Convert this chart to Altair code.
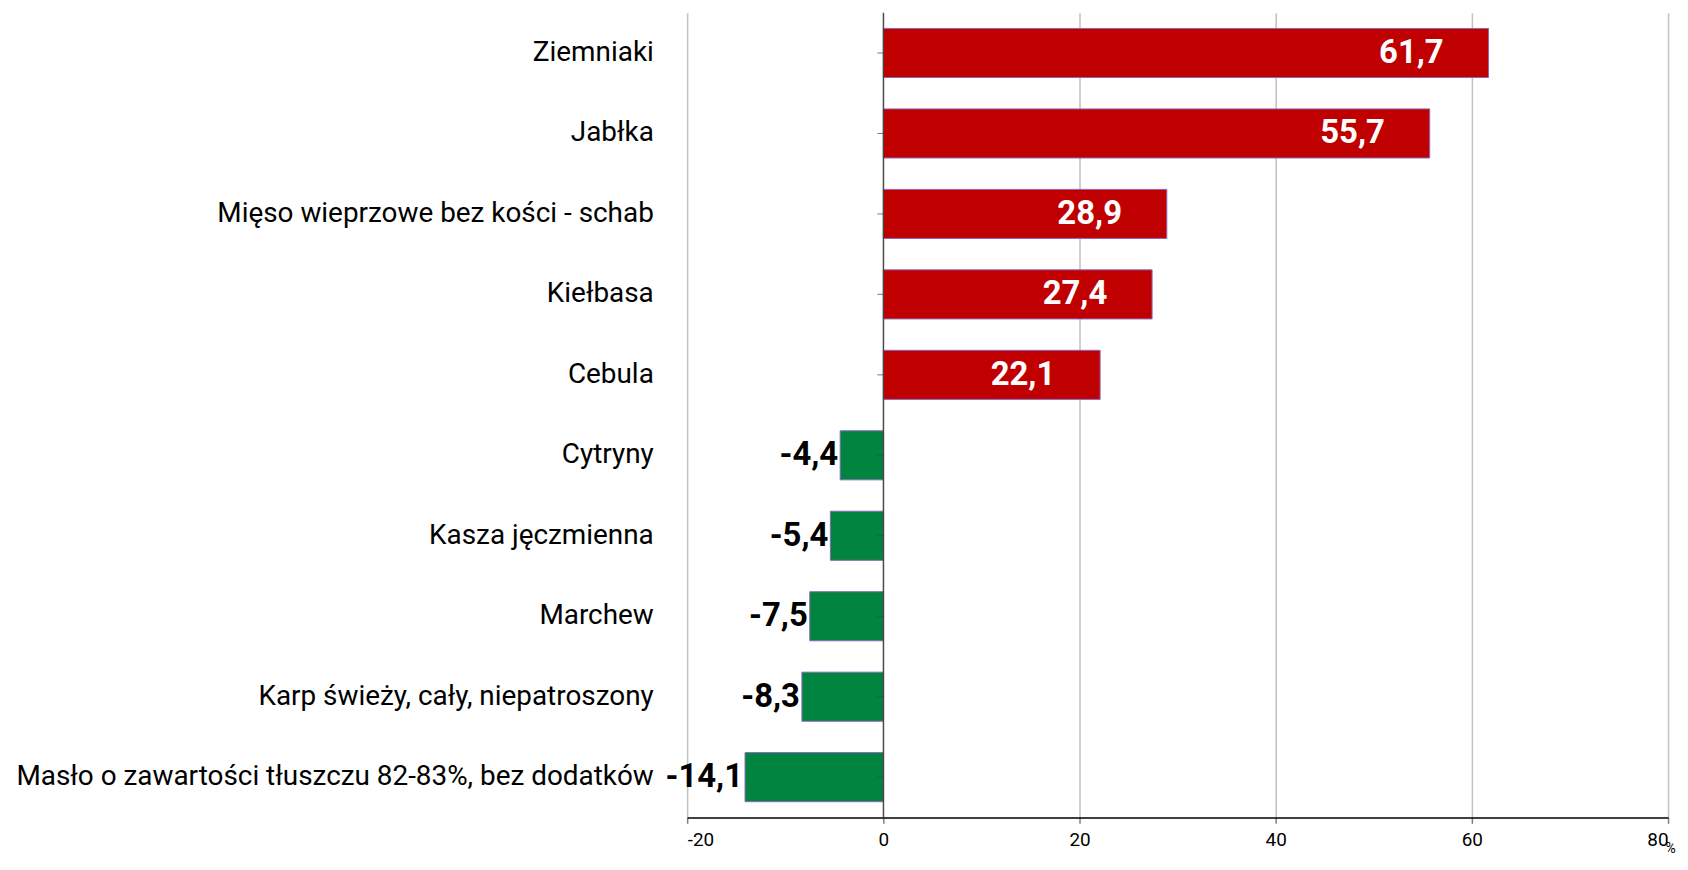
import altair as alt
import pandas as pd

categories = [
    "Ziemniaki",
    "Jabłka",
    "Mięso wieprzowe bez kości - schab",
    "Kiełbasa",
    "Cebula",
    "Cytryny",
    "Kasza jęczmienna",
    "Marchew",
    "Karp świeży, cały, niepatroszony",
    "Masło o zawartości tłuszczu 82-83%, bez dodatków",
]
values = [61.7, 55.7, 28.9, 27.4, 22.1, -4.4, -5.4, -7.5, -8.3, -14.1]
x_ticks = [-20, 0, 20, 40, 60, 80]

df = pd.DataFrame({"cat": categories, "value": values})
df["label"] = [f"{v:.1f}".replace(".", ",") for v in values]

W, H = 985, 808
FONT = "Roboto"

y_enc = alt.Y(
    "cat:N",
    sort=categories,
    title=None,
    scale=alt.Scale(paddingInner=0.39, paddingOuter=0.195),
    axis=alt.Axis(
        domain=False, ticks=False, tickSize=0, labelPadding=34,
        labelFontSize=28, labelFont=FONT, labelColor="black", labelLimit=800,
        grid=False,
    ),
)
x_enc = alt.X(
    "value:Q",
    scale=alt.Scale(domain=[-20, 80], nice=False, zero=False),
    axis=alt.Axis(
        values=x_ticks, labelExpr="'' + datum.value", labelFont=FONT,
        labelFontSize=19, labelColor="black", labelPadding=7,
        domainColor="black", domainWidth=1.5, tickColor="#808080", tickSize=6,
        tickWidth=1.5, gridColor="#c0c0c0", gridWidth=1.5,
        title="%", titleX=W + 2, titleY=24, titleAlign="center",
        titleBaseline="top", titleFont=FONT, titleFontSize=14,
        titleFontWeight="normal", titleColor="black",
    ),
)

base = alt.Chart(df)

bars = base.mark_bar(stroke="#8a68b8", strokeWidth=1).encode(
    x=x_enc,
    y=y_enc,
    color=alt.condition(alt.datum.value > 0, alt.value("#C00000"), alt.value("#00843F")),
)

zero_line = alt.Chart(pd.DataFrame({"z": [0]})).mark_rule(color="#404040", strokeWidth=1.2).encode(
    x=alt.datum(0)
)

ticks = base.mark_tick(orient="horizontal", size=6, thickness=1, color="#404040", xOffset=-3).encode(
    x=alt.datum(0), y=alt.Y("cat:N", sort=categories)
)

pos_text = base.transform_filter(alt.datum.value > 0).mark_text(
    align="right", baseline="middle", dx=-45, font=FONT, fontSize=33,
    fontWeight="bold", color="white",
).encode(x="value:Q", y=alt.Y("cat:N", sort=categories), text="label:N")

neg_text = base.transform_filter(alt.datum.value < 0).mark_text(
    align="right", baseline="middle", dx=-2, font=FONT, fontSize=33,
    fontWeight="bold", color="black",
).encode(x="value:Q", y=alt.Y("cat:N", sort=categories), text="label:N")

chart = alt.layer(bars, zero_line, ticks, pos_text, neg_text).properties(
    width=W,
    height=H,
    padding={"left": 682, "top": 3, "right": 12, "bottom": 40},
    autosize=alt.AutoSizeParams(type="none"),
    background="white",
).configure_view(stroke=None)

chart.save("out.html", embed_options={"renderer": "svg", "actions": False})
